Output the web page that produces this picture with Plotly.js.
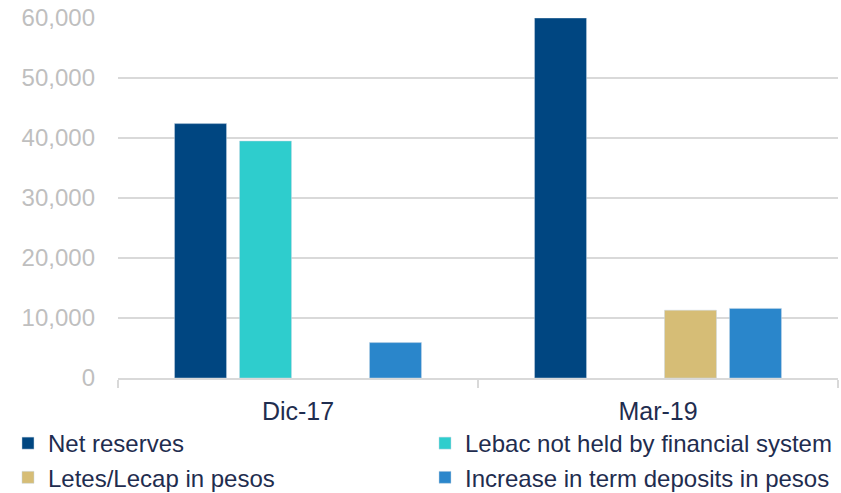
<!DOCTYPE html>
<html>
<head>
<meta charset="utf-8">
<script src="https://cdn.plot.ly/plotly-3.0.1.min.js"></script>
<style>html,body{margin:0;padding:0;background:#fff;}#chart{width:841px;height:493px;}</style>
</head>
<body>
<div id="chart"></div>
<script>
var categories = ["Dic-17", "Mar-19"];
var seriesNames = ["Net reserves", "Lebac not held by financial system", "Letes/Lecap in pesos", "Increase in term deposits in pesos"];
var netReserves = [42400, 60000];
var lebac = [39500, null];
var letesLecap = [null, 11300];
var termDeposits = [5900, 11600];
var colors = ["#004681", "#2ECDCD", "#D6BD76", "#2A86CB"];
var legendGroups = ["legend", "legend2", "legend", "legend2"];
var seriesValues = [netReserves, lebac, letesLecap, termDeposits];

var traces = seriesValues.map(function(vals, i) {
  return {
    type: "bar",
    name: seriesNames[i],
    x: categories,
    y: vals,
    legend: legendGroups[i],
    legendgroup: "g" + i,
    marker: {color: colors[i], line: {color: "rgba(200,215,230,0.8)", width: 0.6}},
    hoverinfo: "y+name"
  };
});

var legendCommon = {
  orientation: "v",
  xref: "paper",
  yref: "container",
  yanchor: "top",
  xanchor: "left",
  font: {size: 24, color: "#1F2D4F"},
  itemwidth: 30,
  traceorder: "normal",
  tracegroupgap: 2,
  bgcolor: "rgba(0,0,0,0)",
  borderwidth: 0
};

var layout = {
  width: 841, height: 493,
  margin: {l: 118, r: 3, t: 18, b: 115},
  paper_bgcolor: "#fff", plot_bgcolor: "#fff",
  barmode: "group",
  bargap: 0.278,
  bargroupgap: 0.2,
  font: {family: "Liberation Sans, Arial, sans-serif"},
  xaxis: {
    type: "category",
    showline: true, linecolor: "#D9D9D9", linewidth: 2,
    ticks: "outside", tickson: "boundaries", ticklen: 8, tickcolor: "#D9D9D9", tickwidth: 2,
    tickfont: {size: 25, color: "#1F2D4F"},
    ticklabelstandoff: 10,
    showgrid: false
  },
  yaxis: {
    range: [0, 60000],
    dtick: 10000,
    tickformat: ",d",
    showgrid: true, gridcolor: "#D9D9D9", gridwidth: 1.5,
    zeroline: false,
    tickfont: {size: 24, color: "#BFBFBF"},
    ticklabelstandoff: 22,
    showline: false
  },
  showlegend: true,
  legend: Object.assign({}, legendCommon, {x: -0.1528, y: 0.146}),
  legend2: Object.assign({}, legendCommon, {x: 0.4264, y: 0.146})
};

Plotly.newPlot("chart", traces, layout, {displayModeBar: false, staticPlot: true});
</script>
</body>
</html>
